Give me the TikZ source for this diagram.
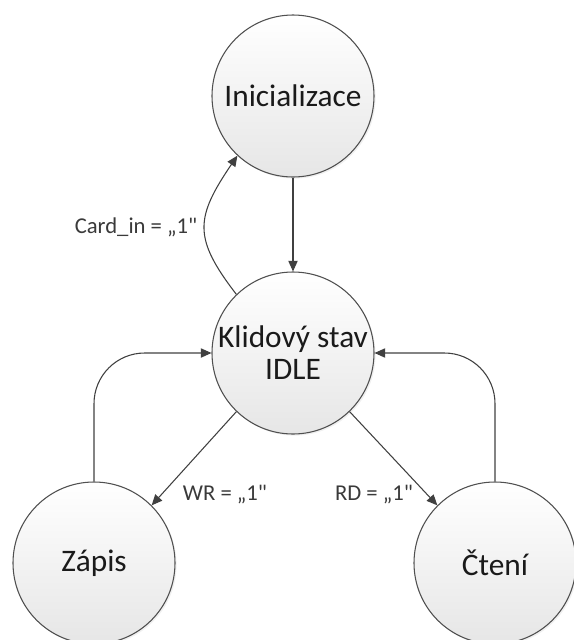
\documentclass[tikz,border=0pt]{standalone}
\usepackage{fontspec}
\setmainfont{Carlito}[Ligatures=TeXOff]
\usetikzlibrary{arrows.meta,shadows}
\definecolor{linegray}{HTML}{404040}
\definecolor{bordergray}{HTML}{505050}
\definecolor{fillbot}{HTML}{E6E6E6}
\definecolor{textdark}{HTML}{1A1A1A}
\tikzset{
  state/.style={circle, minimum size=162*0.75pt, inner sep=0pt, draw=bordergray, line width=0.8pt,
    top color=white, bottom color=fillbot, text=textdark,
    font=\fontsize{23.5}{24}\selectfont, align=center,
    drop shadow={opacity=0.12, shadow xshift=1.2pt, shadow yshift=-1.2pt}},
  conn/.style={draw=linegray, line width=0.8pt, -{Triangle[length=8pt,width=7pt]}},
  lbl/.style={text=linegray!90!black, font=\fontsize{17}{19}\selectfont, inner sep=0pt}
}
\begin{document}
\begin{tikzpicture}[x=0.75pt,y=-0.75pt]
\clip (0,0) rectangle (574,640);
\node[state] (I) at (293,96) {Inicializace};
\node[state] (K) at (293,353) {Klidový stav\\IDLE};
\node[state] (Z) at (94,563) {Zápis};
\node[state] (C) at (495,563) {Čtení};

\draw[conn] (I.south) -- (K.north);
\draw[conn] (K.134) .. controls (193,238) and (195,218) .. (I.227);
\draw[conn, rounded corners=38pt] (Z.north) |- (K.west);
\draw[conn, rounded corners=38pt] (C.north) |- (K.east);
\draw[conn] (K.226) -- (Z.45);
\draw[conn] (K.314) -- (C.135);

\node[lbl] (l1) at (136,227) {Card\_in = „1"};
\node[lbl] (l2) at (225,495) {WR = „1"};
\node[lbl] (l3) at (374,495) {RD = „1"};
\end{tikzpicture}
\end{document}
